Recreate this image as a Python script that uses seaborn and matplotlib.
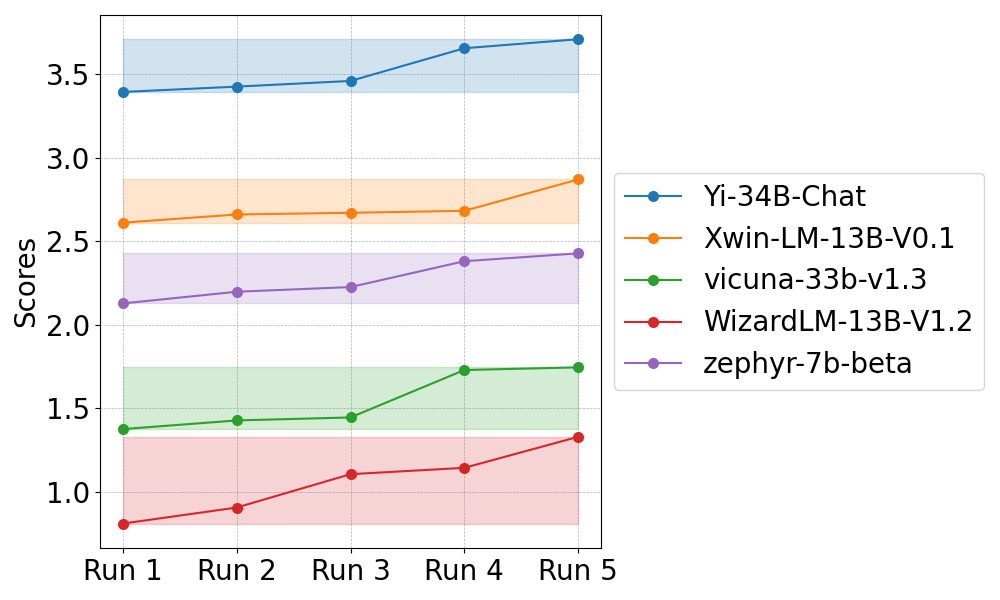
import pandas as pd
import matplotlib.pyplot as plt
import seaborn as sns

runs = ["Run 1", "Run 2", "Run 3", "Run 4", "Run 5"]
models = ["Yi-34B-Chat", "Xwin-LM-13B-V0.1", "vicuna-33b-v1.3", "WizardLM-13B-V1.2", "zephyr-7b-beta"]
yi_scores = [3.394, 3.426, 3.460, 3.656, 3.710]
xwin_scores = [2.611, 2.660, 2.670, 2.682, 2.870]
vicuna_scores = [1.374, 1.426, 1.444, 1.728, 1.744]
wizard_scores = [0.808, 0.904, 1.104, 1.142, 1.328]
zephyr_scores = [2.127, 2.197, 2.225, 2.380, 2.427]
colors = ["#1f77b4", "#ff7f0e", "#2ca02c", "#d62728", "#9467bd"]

plt.rcParams["font.size"] = 20

all_scores = [yi_scores, xwin_scores, vicuna_scores, wizard_scores, zephyr_scores]
rows = []
for model, scores in zip(models, all_scores):
    for i, s in enumerate(scores):
        rows.append({"run": i, "model": model, "score": s})
df = pd.DataFrame(rows)

fig, ax = plt.subplots(figsize=(10, 6), dpi=100)

sns.lineplot(
    data=df, x="run", y="score", hue="model", hue_order=models,
    palette=colors, marker="o", markersize=8, markeredgewidth=0,
    linewidth=1.5, ax=ax,
)

# shaded band between min and max of each model
for model, scores, c in zip(models, all_scores, colors):
    ax.fill_between(range(len(runs)), min(scores), max(scores), color=c, alpha=0.2)

ax.set_xticks(range(len(runs)))
ax.set_xticklabels(runs)
ax.set_xlabel("")
ax.set_ylabel("Scores")
ax.grid(True, linestyle="--", linewidth=0.5, color="gray", alpha=0.6)
ax.legend(loc="center left", bbox_to_anchor=(0.998, 0.5), fontsize=20)

plt.subplots_adjust(left=0.1, right=0.601, bottom=0.087, top=0.975)
plt.savefig("out.png")
